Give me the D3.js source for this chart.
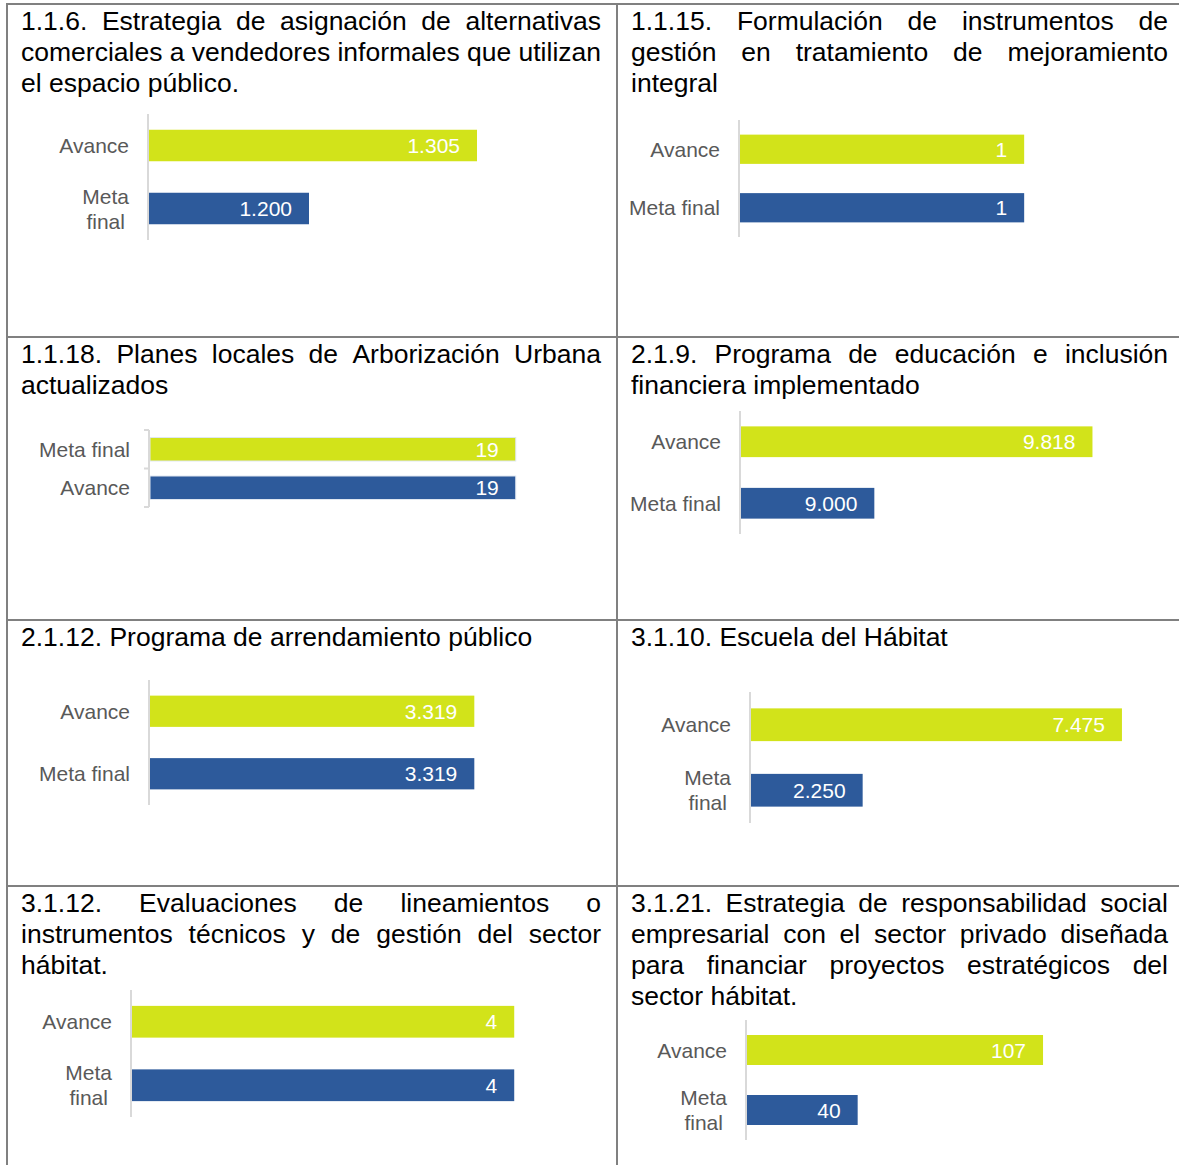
<!DOCTYPE html>
<html>
<head>
<meta charset="utf-8">
<script src="https://cdn.jsdelivr.net/npm/d3@7"></script>
<style>
  body { margin: 0; background: #fff; }
  text { font-family: "Liberation Sans", Arial, sans-serif; }
</style>
</head>
<body>
<div id="chart"></div>
<script>
// titles of every cell, one entry per printed line
var titles = [
  ["1.1.6. Estrategia de asignación de alternativas", "comerciales a vendedores informales que utilizan", "el espacio público."],
  ["1.1.15. Formulación de instrumentos de", "gestión en tratamiento de mejoramiento", "integral"],
  ["1.1.18. Planes locales de Arborización Urbana", "actualizados"],
  ["2.1.9. Programa de educación e inclusión", "financiera implementado"],
  ["2.1.12. Programa de arrendamiento público"],
  ["3.1.10. Escuela del Hábitat"],
  ["3.1.12. Evaluaciones de lineamientos o", "instrumentos técnicos y de gestión del sector", "hábitat."],
  ["3.1.21. Estrategia de responsabilidad social", "empresarial con el sector privado diseñada", "para financiar proyectos estratégicos del", "sector hábitat."]
];

// category order of each small chart (top row first)
var categories = [
  ["Avance", "Meta final"],
  ["Avance", "Meta final"],
  ["Meta final", "Avance"],
  ["Avance", "Meta final"],
  ["Avance", "Meta final"],
  ["Avance", "Meta final"],
  ["Avance", "Meta final"],
  ["Avance", "Meta final"]
];

var avance    = [1305, 1, 19, 9818, 3319, 7475, 4, 107];
var metaFinal = [1200, 1, 19, 9000, 3319, 2250, 4, 40];

// value axis bounds (axes are hidden, like the original Excel charts)
var axisMin = [1100, 0, 0, 8500, 0, 0, 0, 0];
var axisMax = [1400, 1.2, 20, 10000, 3500, 8000, 4.5, 120];

/**
 * Layout of every cell: plot position and size
 */
var rowTops = [4, 337, 620, 886];
var colLeft = [7, 617];
var layout = [
  {axisX: 148, top: 114, bottom: 240, w: 480, wrap: true,  inner: 0.5},
  {axisX: 739, top: 120, bottom: 237, w: 341, wrap: false, inner: 0.5},
  {axisX: 149, top: 430, bottom: 507, w: 385, wrap: false, inner: 0.39, ticks: true},
  {axisX: 740, top: 411, bottom: 534, w: 400, wrap: false, inner: 0.5},
  {axisX: 149, top: 680, bottom: 805, w: 342, wrap: false, inner: 0.5},
  {axisX: 750, top: 692, bottom: 823, w: 397, wrap: true,  inner: 0.5},
  {axisX: 131, top: 990, bottom: 1117, w: 430, wrap: true, inner: 0.5},
  {axisX: 746, top: 1020, bottom: 1140, w: 332, wrap: true, inner: 0.5}
];

var width = 1179;
var height = 1165;
var barColors = ["#d2e31a", "#2d5a9b"];
var fmt = d3.formatLocale({decimal: ",", thousands: ".", grouping: [3], currency: ["$", ""]}).format(",");

var svg = d3.select("#chart").append("svg")
  .attr("width", width)
  .attr("height", height);

svg.append("rect").attr("width", width).attr("height", height).attr("fill", "#fff");

/**
 * Writes one title line, justified between x0 and x1 unless it is the last one
 */
function titleLine(g, text, x0, x1, y, justify) {
  var t = g.append("text")
    .attr("y", y)
    .attr("font-size", 26.5)
    .attr("fill", "#000");
  if (!justify) {
    t.attr("x", x0).text(text);
    return;
  }
  var words = text.split(" ");
  var spans = words.map(w => t.append("tspan").text(w));
  var widths = spans.map(s => s.node().getComputedTextLength());
  var gap = (x1 - x0 - d3.sum(widths)) / (words.length - 1);
  var x = x0;
  spans.forEach((s, i) => {
    s.attr("x", x);
    x += widths[i] + gap;
  });
}

titles.forEach(function(lines, i) {
  var col = i % 2;
  var row = Math.floor(i / 2);
  var x0 = col == 0 ? 21 : 631;
  var x1 = col == 0 ? 601 : 1168;
  var g = svg.append("g").attr("class", "title");
  lines.forEach(function(line, j) {
    titleLine(g, line, x0, x1, rowTops[row] + 26 + 31 * j, j < lines.length - 1);
  });
});

// the small bar charts
layout.forEach(function(L, i) {
  var g = svg.append("g").attr("class", "bars");
  var cats = categories[i];
  var data = cats.map(c => ({cat: c, value: c == "Avance" ? avance[i] : metaFinal[i]}));

  var x = d3.scaleLinear()
    .domain([axisMin[i], axisMax[i]])
    .range([L.axisX + 1, L.axisX + 1 + L.w]);
  var y = d3.scaleBand()
    .domain(cats)
    .range([L.top, L.bottom])
    .paddingInner(L.inner)
    .paddingOuter(L.inner / 2);

  g.selectAll("rect")
    .data(data)
    .enter().append("rect")
    .attr("x", x(axisMin[i]))
    .attr("y", d => y(d.cat))
    .attr("width", d => x(d.value) - x(axisMin[i]))
    .attr("height", y.bandwidth())
    .attr("fill", (d, k) => barColors[k])
    .attr("stroke", L.ticks ? "#dfe6f0" : "none")
    .attr("stroke-width", 1);

  // category axis line
  g.append("line")
    .attr("x1", L.axisX).attr("x2", L.axisX)
    .attr("y1", L.top).attr("y2", L.bottom)
    .attr("stroke", "#d9d9d9")
    .attr("stroke-width", 2);
  if (L.ticks) {
    var tk = [L.top, (L.top + L.bottom) / 2, L.bottom];
    g.selectAll(".tick").data(tk).enter().append("line")
      .attr("x1", L.axisX - 5).attr("x2", L.axisX)
      .attr("y1", d => d).attr("y2", d => d)
      .attr("stroke", "#d9d9d9")
      .attr("stroke-width", 2);
  }

  // value labels, inside end
  g.selectAll(".val")
    .data(data)
    .enter().append("text")
    .attr("class", "val")
    .attr("x", d => x(d.value) - 17)
    .attr("y", d => y(d.cat) + y.bandwidth() / 2)
    .attr("dy", "0.36em")
    .attr("text-anchor", "end")
    .attr("font-size", 21)
    .attr("fill", "#fff")
    .text(d => fmt(d.value));

  // category labels
  data.forEach(function(d) {
    var cy = y(d.cat) + y.bandwidth() / 2;
    var right = L.axisX - 19;
    if (L.wrap && d.cat.indexOf(" ") > 0) {
      var parts = d.cat.split(" ");
      var t = g.append("text")
        .attr("font-size", 21)
        .attr("fill", "#595959")
        .attr("text-anchor", "middle");
      var spans = parts.map((p, k) => t.append("tspan")
        .attr("y", cy + (k - (parts.length - 1) / 2) * 25)
        .attr("dy", "0.36em")
        .text(p));
      var maxW = d3.max(spans, s => s.node().getComputedTextLength());
      spans.forEach(s => s.attr("x", right - maxW / 2));
    } else {
      g.append("text")
        .attr("x", right)
        .attr("y", cy)
        .attr("dy", "0.36em")
        .attr("text-anchor", "end")
        .attr("font-size", 21)
        .attr("fill", "#595959")
        .text(d.cat);
    }
  });
});

// table grid
var grid = svg.append("g").attr("class", "grid");
rowTops.forEach(function(yy) {
  grid.append("line")
    .attr("x1", colLeft[0] - 1).attr("x2", width)
    .attr("y1", yy).attr("y2", yy)
    .attr("stroke", "#808080").attr("stroke-width", 2);
});
colLeft.forEach(function(xx) {
  grid.append("line")
    .attr("x1", xx).attr("x2", xx)
    .attr("y1", rowTops[0] - 1).attr("y2", height)
    .attr("stroke", "#808080").attr("stroke-width", 2);
});
</script>
</body>
</html>
